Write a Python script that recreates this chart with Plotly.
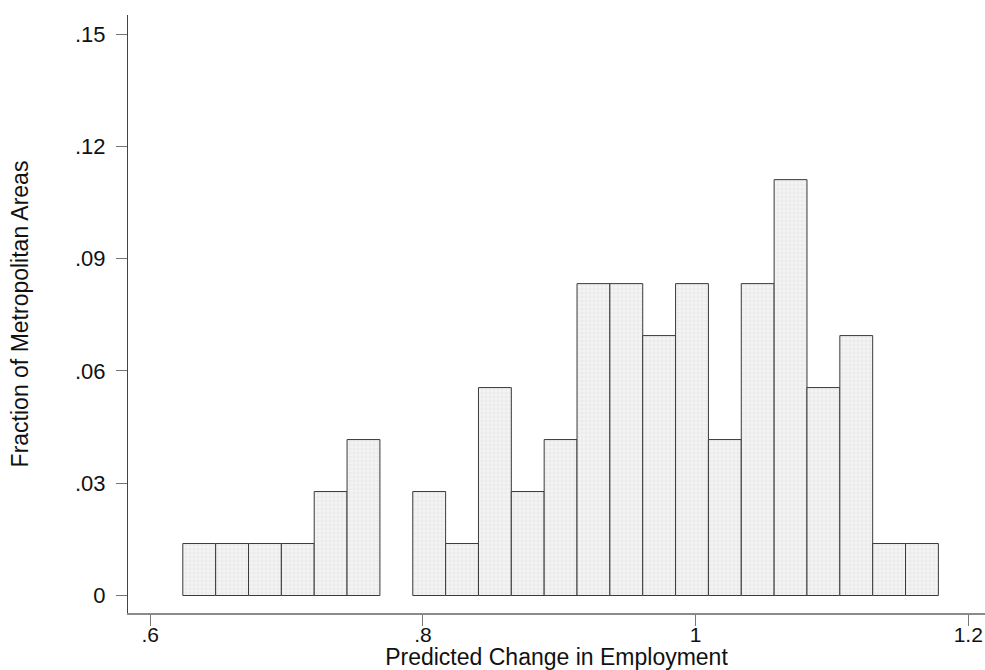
import plotly.graph_objects as go

# Histogram data: counts per bin out of 72 metropolitan areas
bin_start = 0.6239
bin_width = 0.024096
counts = [1, 1, 1, 1, 2, 3, 0, 2, 1, 4, 2, 3, 6, 6, 5, 6, 3, 6, 8, 4, 5, 1, 1]
total = 72
fractions = [c / total for c in counts]
centers = [bin_start + bin_width * (i + 0.5) for i in range(len(counts))]

x_ticks = [0.6, 0.8, 1.0, 1.2]
x_tick_labels = [".6", ".8", "1", "1.2"]
y_ticks = [0, 0.03, 0.06, 0.09, 0.12, 0.15]
y_tick_labels = ["0", ".03", ".06", ".09", ".12", ".15"]

font_family = "Liberation Sans, Arial, sans-serif"

fig = go.Figure(
    go.Bar(
        x=centers,
        y=fractions,
        width=[bin_width] * len(counts),
        marker=dict(
            color="#f3f3f3",
            line=dict(color="#3a3a3a", width=[1 if c > 0 else 0 for c in counts]),
            pattern=dict(shape="+", fgcolor="#cfcfcf", bgcolor="#f4f4f4",
                         size=4, solidity=0.25, fillmode="overlay"),
        ),
        hoverinfo="x+y",
    )
)

fig.update_layout(
    width=985,
    height=670,
    margin=dict(l=128, r=0, t=15, b=57),
    paper_bgcolor="white",
    plot_bgcolor="white",
    showlegend=False,
    font=dict(family=font_family, size=22, color="#111111"),
    xaxis=dict(
        range=[0.5837, 1.2123],
        tickmode="array",
        tickvals=x_ticks,
        ticktext=x_tick_labels,
        ticks="outside",
        ticklen=11,
        tickwidth=1,
        tickcolor="#777777",
        showline=True,
        linecolor="#8a8a8a",
        linewidth=2,
        showgrid=False,
        zeroline=False,
        automargin=False,
        tickfont=dict(size=21),
        ticklabelstandoff=-9,
        title=dict(text="Predicted Change in Employment", font=dict(size=23), standoff=5),
    ),
    yaxis=dict(
        range=[-0.004675, 0.1551],
        tickmode="array",
        tickvals=y_ticks,
        ticktext=y_tick_labels,
        ticks="outside",
        ticklen=11,
        tickwidth=1,
        tickcolor="#777777",
        showline=True,
        linecolor="#444444",
        linewidth=1,
        showgrid=False,
        zeroline=False,
        automargin=False,
        tickfont=dict(size=22),
        ticklabelstandoff=6,
        title=dict(text="Fraction of Metropolitan Areas", font=dict(size=23), standoff=39),
    ),
)

fig.write_html(
    "out.html",
    config={"displayModeBar": False},
    post_script="document.body.style.margin='0';document.body.style.overflow='hidden';",
)
